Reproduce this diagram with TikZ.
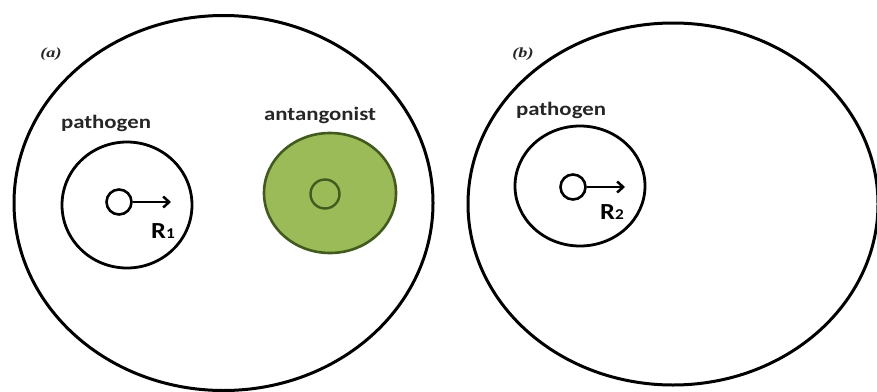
\documentclass[tikz,border=0pt]{standalone}
\usepackage{fontspec}
\usetikzlibrary{shapes.geometric,arrows.meta}
\newfontfamily\calib{Carlito}
\newfontfamily\tnr{Liberation Serif}
\definecolor{antgreen}{HTML}{9BBB59}
\definecolor{antedge}{HTML}{425A1E}
\begin{document}
\begin{tikzpicture}[x=1pt,y=-1pt,
  cell/.style={draw=black, line width=3pt, ellipse, inner sep=0pt},
  patho/.style={draw=black, line width=2.8pt, ellipse, inner sep=0pt},
  rcirc/.style={draw=black, line width=2.6pt, circle, inner sep=0pt, minimum size=25pt},
  lab/.style={font=\calib\bfseries\fontsize{19}{19}\selectfont, inner sep=0pt, xscale=1.2, text=black!85},
  rlab/.style={font=\calib\bfseries\fontsize{23}{23}\selectfont, inner sep=0pt, xscale=1.15},
  panel/.style={font=\tnr\bfseries\itshape\fontsize{14}{14}\selectfont, inner sep=0pt, xscale=1.3, text=black!85},
  rarrow/.style={line width=2.5pt, -{Straight Barb[length=6pt,width=11pt,line width=2.5pt]}}
]
\useasboundingbox (0,0) rectangle (877,391);
% panel (a)
\node[cell, minimum width=419pt, minimum height=375pt] (cellA) at (223.5,203) {};
\node[panel] (labA) at (51,54) {(a)};
\node[patho, minimum width=130pt, minimum height=126pt] (pathA) at (127,205) {};
\node[lab] (ptxtA) at (106,123.5) {pathogen};
\node[rcirc] (recA) at (119,202) {};
\coordinate (tipA) at (171,202);
\draw[rarrow] (recA.east) -- (tipA);
\node[rlab, anchor=base west] (rA) at (151,238) {R{\fontsize{15}{15}\selectfont 1}};
\node[draw=antedge, fill=antgreen, line width=2.6pt, ellipse, inner sep=0pt, minimum width=132pt, minimum height=120pt] (antA) at (330,193) {};
\node[draw=antedge, line width=2.4pt, circle, inner sep=0pt, minimum size=29pt] (antcore) at (325,194) {};
\node[lab] (atxt) at (320,115) {antangonist};
% panel (b)
\node[cell, minimum width=410pt, minimum height=362pt] (cellB) at (673,204) {};
\node[panel] (labB) at (523,54) {(b)};
\node[patho, minimum width=130pt, minimum height=120pt] (pathB) at (580,186) {};
\node[lab] (ptxtB) at (561,110.5) {pathogen};
\node[rcirc] (recB) at (573,187) {};
\coordinate (tipB) at (625,187);
\draw[rarrow] (recB.east) -- (tipB);
\node[rlab, anchor=base west] (rB) at (600,219) {R{\fontsize{15}{15}\selectfont 2}};
\end{tikzpicture}
\end{document}
